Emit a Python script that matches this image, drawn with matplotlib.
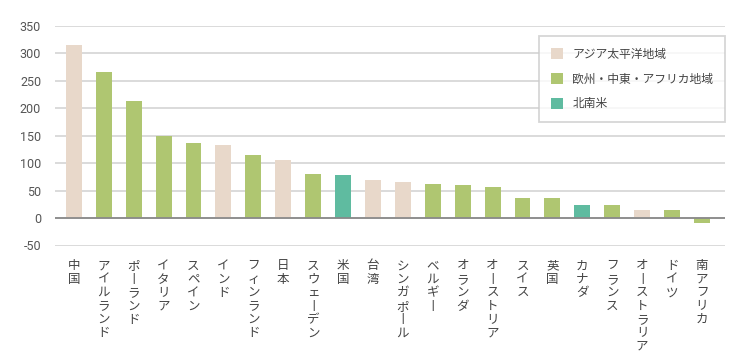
import matplotlib
matplotlib.use('Agg')
import matplotlib.pyplot as plt
from matplotlib.patches import Patch

plt.rcParams['font.family'] = ['Noto Sans CJK JP', 'DejaVu Sans']

countries = ['中国', 'アイルランド', 'ポーランド', 'イタリア', 'スペイン', 'インド',
             'フィンランド', '日本', 'スウェーデン', '米国', '台湾', 'シンガポール',
             'ベルギー', 'オランダ', 'オーストリア', 'スイス', '英国', 'カナダ',
             'フランス', 'オーストラリア', 'ドイツ', '南アフリカ']
values = [315, 266, 214, 150, 136, 133, 115, 106, 80, 78, 70, 65,
          62, 60, 56, 36, 36, 24, 24, 14, 14, -9]
regions = ['ap', 'emea', 'emea', 'emea', 'emea', 'ap', 'emea', 'ap', 'emea', 'am',
           'ap', 'ap', 'emea', 'emea', 'emea', 'emea', 'emea', 'am', 'emea', 'ap',
           'emea', 'emea']

region_names = {'ap': 'アジア太平洋地域', 'emea': '欧州・中東・アフリカ地域', 'am': '北南米'}
region_colors = {'ap': '#e8d8ca', 'emea': '#afc671', 'am': '#5fbba0'}

yticks = [-50, 0, 50, 100, 150, 200, 250, 300, 350]


def vertical(s):
    # stack characters to mimic vertical Japanese text
    return '\n'.join('丨' if c == 'ー' else c for c in s)


fig = plt.figure(figsize=(7.5, 3.6), dpi=100)
ax = fig.add_axes([55 / 750, 1 - 245.5 / 360, 670 / 750, (245.5 - 26) / 360])

x = list(range(len(countries)))
ax.bar(x, values, width=0.53, color=[region_colors[r] for r in regions], zorder=2)

ax.set_ylim(-50, 350)
ax.set_xlim(-0.63, len(countries) - 0.23)
ax.set_yticks(yticks)
ax.set_yticklabels([str(v) for v in yticks], fontsize=9, color='#555555',
                   family=['Roboto', 'DejaVu Sans'])
ax.tick_params(axis='y', length=0, pad=10)
ax.tick_params(axis='x', length=0, pad=10)
ax.set_xticks(x)
ax.set_xticklabels([vertical(c) for c in countries], fontsize=9, color='#444444',
                   linespacing=1.04, va='top')

ax.grid(axis='y', color='#d4d4d4', linewidth=1.2, zorder=0)
ax.axhline(0, color='#8a8a8a', linewidth=1.3, zorder=3)
for s in ax.spines.values():
    s.set_visible(False)

handles = [Patch(facecolor=region_colors[k], edgecolor='none') for k in ['ap', 'emea', 'am']]
leg = ax.legend(handles, [region_names[k] for k in ['ap', 'emea', 'am']],
                loc='upper right', bbox_to_anchor=(1.0, 0.955), fontsize=8.5,
                frameon=True, fancybox=False, handlelength=1.0, handleheight=1.1,
                handletextpad=0.8, labelspacing=1.0, borderpad=1.0, borderaxespad=0)
leg.get_frame().set_edgecolor('#cccccc')
leg.get_frame().set_linewidth(1.3)
for t in leg.get_texts():
    t.set_color('#444444')

fig.savefig('out.png', dpi=100)
